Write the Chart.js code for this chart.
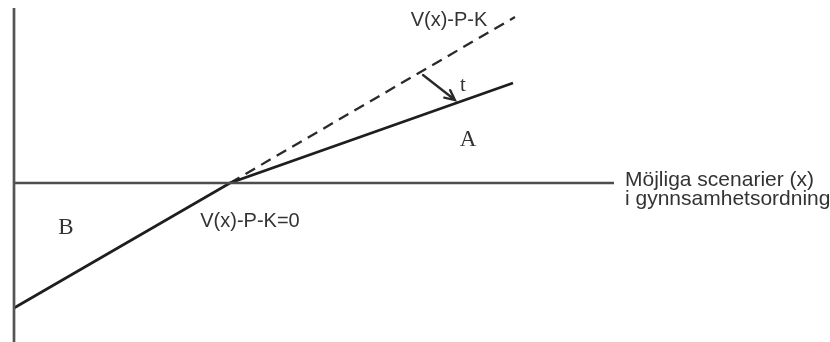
<!DOCTYPE html>
<html>
<head>
<meta charset="utf-8">
<script src="https://cdn.jsdelivr.net/npm/chart.js@4"></script>
<style>
  html, body { margin: 0; padding: 0; background: #fff; }
  #wrap { width: 830px; height: 342px; }
</style>
</head>
<body>
<div id="wrap"><canvas id="myChart"></canvas></div>
<script>
// scenarier (x) och värden V(x)-P-K
const scenarios = [0, 21.6, 49.9];
const solidValues = [-12.5, 0, 10.0];          // efter skatt t
const dashedX = [21.6, 50.1];
const dashedValues = [0, 16.6];                // V(x)-P-K utan skatt

// axlarna
const axisX = [0, 60];
const axisY = [-16, 17.5];

// pilen t (från streckad till heldragen linje)
const arrowX = [40.9, 44.1];
const arrowY = [10.8, 8.3];

const labels = [
  { text: ['V(x)-P-K'], x: 43.5, y: 16.3, font: '20px "Liberation Sans", Arial', align: 'center' },
  { text: ['V(x)-P-K=0'], x: 23.6, y: -3.8, font: '20px "Liberation Sans", Arial', align: 'center' },
  { text: ['Möjliga scenarier (x)', 'i gynnsamhetsordning'], x: 61.1, y: 0.25, font: '21px "Liberation Sans", Arial', align: 'left', lineH: 1.9 },
  { text: ['A'], x: 45.4, y: 4.3, font: '23px "Liberation Serif", "Times New Roman"', align: 'center' },
  { text: ['B'], x: 5.2, y: -4.5, font: '23px "Liberation Serif", "Times New Roman"', align: 'center' },
  { text: ['t'], x: 44.9, y: 9.8, font: '21px "Liberation Serif", "Times New Roman"', align: 'center' }
];

const pts = (xs, ys) => xs.map((x, i) => ({ x: x, y: ys[i] }));

const figurPlugin = {
  id: 'figur',
  afterDatasetsDraw(chart) {
    const ctx = chart.ctx;
    const sx = chart.scales.x, sy = chart.scales.y;
    // pil
    const x0 = sx.getPixelForValue(arrowX[0]), y0 = sy.getPixelForValue(arrowY[0]);
    const x1 = sx.getPixelForValue(arrowX[1]), y1 = sy.getPixelForValue(arrowY[1]);
    const ang = Math.atan2(y1 - y0, x1 - x0);
    ctx.save();
    ctx.strokeStyle = '#2a2a2a';
    ctx.lineWidth = 2.3;
    ctx.lineCap = 'round';
    ctx.beginPath();
    ctx.moveTo(x0, y0);
    ctx.lineTo(x1, y1);
    ctx.moveTo(x1 - 11 * Math.cos(ang - 0.45), y1 - 11 * Math.sin(ang - 0.45));
    ctx.lineTo(x1, y1);
    ctx.lineTo(x1 - 11 * Math.cos(ang + 0.45), y1 - 11 * Math.sin(ang + 0.45));
    ctx.stroke();
    // texter
    ctx.fillStyle = '#333';
    ctx.textBaseline = 'middle';
    labels.forEach(l => {
      ctx.font = l.font;
      ctx.textAlign = l.align;
      const px = sx.getPixelForValue(l.x);
      l.text.forEach((t, i) => {
        const py = sy.getPixelForValue(l.y - i * (l.lineH || 0));
        ctx.fillText(t, px, py);
      });
    });
    ctx.restore();
  }
};

const config = {
  type: 'scatter',
  data: {
    datasets: [
      { data: pts([0, 0], axisY), borderColor: '#555', borderWidth: 2.7 },
      { data: pts(axisX, [0, 0]), borderColor: '#4d4d4d', borderWidth: 2.5 },
      { data: pts(scenarios, solidValues), borderColor: '#1e1e1e', borderWidth: 2.7 },
      { data: pts(dashedX, dashedValues), borderColor: '#2a2a2a', borderWidth: 2.3, borderDash: [11, 7] }
    ].map(d => Object.assign(d, { showLine: true, pointRadius: 0, fill: false }))
  },
  options: {
    responsive: true,
    maintainAspectRatio: false,
    animation: false,
    layout: { padding: 0 },
    scales: {
      x: { type: 'linear', min: -1.4, max: 81.6, display: false },
      y: { type: 'linear', min: -15.9, max: 18.3, display: false }
    },
    plugins: {
      legend: { display: false },
      tooltip: { enabled: false }
    }
  },
  plugins: [figurPlugin]
};

const myChart = new Chart(document.getElementById('myChart'), config);
</script>
</body>
</html>
